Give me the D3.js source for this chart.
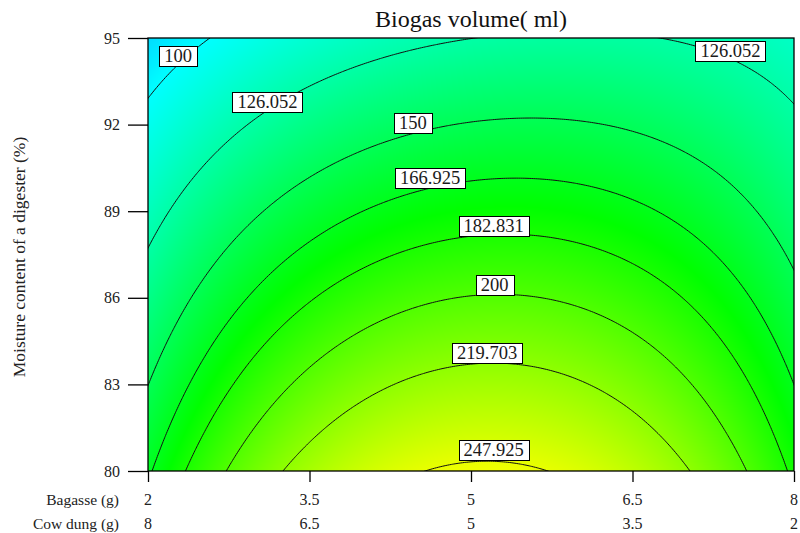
<!DOCTYPE html>
<html>
<head>
<meta charset="utf-8">
<script src="https://cdn.jsdelivr.net/npm/d3@7"></script>
<style>
  body { margin: 0; background: #fff; }
  svg { display: block; }
</style>
</head>
<body>
<script>
// Fitted response surface for biogas volume (ml).
// A = coded bagasse (-1..1 over 2..8 g), B = coded moisture (-1..1 over 80..95 %).
// volume = c0(B) + c1(B)*A + c2(B)*A^2, each cK(B) = [k0, k1*B, k2*B^2]
const coefConst   = [188.1, -62.34, 0.13];
const coefLinearA = [10.27,   3.05, 0.28];
const coefQuadA   = [-50.65, 27.70, 0.16];

const bagasseTicks  = [2, 3.5, 5, 6.5, 8];
const cowDungTicks  = [8, 6.5, 5, 3.5, 2];
const moistureTicks = [80, 83, 86, 89, 92, 95];
const contourLevels = [100, 126.052, 150, 166.925, 182.831, 200, 219.703, 247.925];

function volume(bagasse, moisture) {
  const A = (bagasse - 5) / 3, B = (moisture - 87.5) / 7.5;
  const q = c => c[0] + c[1] * B + c[2] * B * B;
  return q(coefConst) + q(coefLinearA) * A + q(coefQuadA) * A * A;
}

const W = 800, H = 533;
const plot = { left: 148, right: 794, top: 38, bottom: 471 };
const serif = "'Liberation Serif', 'Times New Roman', serif";

const x = d3.scaleLinear().domain([2, 8]).range([plot.left, plot.right]);
const xCow = d3.scaleLinear().domain([8, 2]).range([plot.left, plot.right]);
const y = d3.scaleLinear().domain([80, 95]).range([plot.bottom, plot.top]);

const color = d3.scaleLinear()
  .domain([25, 100, 175, 255, 335])
  .range(["#0000ff", "#00ffff", "#00ff00", "#ffff00", "#ff0000"])
  .clamp(true);

const svg = d3.select("body").append("svg")
  .attr("width", W).attr("height", H)
  .attr("font-family", serif);

svg.append("defs").append("clipPath").attr("id", "plot-clip")
  .append("rect")
  .attr("x", plot.left).attr("y", plot.top)
  .attr("width", plot.right - plot.left).attr("height", plot.bottom - plot.top);

// Colour-filled surface, rendered per pixel into a canvas image
const pw = plot.right - plot.left, ph = plot.bottom - plot.top;
const canvas = document.createElement("canvas");
canvas.width = pw; canvas.height = ph;
const ctx = canvas.getContext("2d");
const img = ctx.createImageData(pw, ph);
for (let j = 0; j < ph; j++) {
  const m = y.invert(plot.top + j + 0.5);
  for (let i = 0; i < pw; i++) {
    const b = x.invert(plot.left + i + 0.5);
    const c = d3.rgb(color(volume(b, m)));
    const k = (j * pw + i) * 4;
    img.data[k] = c.r; img.data[k + 1] = c.g; img.data[k + 2] = c.b; img.data[k + 3] = 255;
  }
}
ctx.putImageData(img, 0, 0);
svg.append("image")
  .attr("x", plot.left).attr("y", plot.top)
  .attr("width", pw).attr("height", ph)
  .attr("preserveAspectRatio", "none")
  .attr("href", canvas.toDataURL());

// Contour lines
const gx0 = 1.8, gx1 = 8.2, gy0 = 79.5, gy1 = 95.5, nx = 321, ny = 241;
const sx = (gx1 - gx0) / (nx - 1), sy = (gy1 - gy0) / (ny - 1);
const grid = new Float64Array(nx * ny);
for (let j = 0; j < ny; j++)
  for (let i = 0; i < nx; i++)
    grid[j * nx + i] = volume(gx0 + i * sx, gy0 + j * sy);

const contours = d3.contours().size([nx, ny]).thresholds(contourLevels)(grid);
const proj = d3.geoTransform({
  point(px, py) { this.stream.point(x(gx0 + (px - 0.5) * sx), y(gy0 + (py - 0.5) * sy)); }
});
const path = d3.geoPath(proj);

svg.append("g").attr("clip-path", "url(#plot-clip)")
  .selectAll("path").data(contours).join("path")
  .attr("d", path)
  .attr("fill", "none")
  .attr("stroke", "#111")
  .attr("stroke-width", 1);

// Contour value labels: [level, bagasse position, vertical shift]
const labelPlacement = [
  [100, 2.28, -8],
  [126.052, 3.11, -8],
  [126.052, 7.41, -8],
  [150, 4.46, -11],
  [166.925, 4.62, -10],
  [182.831, 5.21, -8],
  [200, 5.22, -9],
  [219.703, 5.15, -10],
  [247.925, 5.21, -11]
];

function moistureAt(bagasse, level) {
  let lo = 80, hi = 95;
  for (let k = 0; k < 60; k++) {
    const mid = (lo + hi) / 2;
    if (volume(bagasse, mid) > level) lo = mid; else hi = mid;
  }
  return (lo + hi) / 2;
}

const labels = svg.append("g");
labelPlacement.forEach(([level, b, dy]) => {
  const cx = x(b), cy = y(moistureAt(b, level)) + dy;
  const g = labels.append("g");
  const rect = g.append("rect").attr("fill", "#fff").attr("stroke", "#000").attr("stroke-width", 1);
  const t = g.append("text")
    .attr("x", cx).attr("y", cy)
    .attr("text-anchor", "middle")
    .attr("dominant-baseline", "central")
    .attr("font-size", 18.5)
    .attr("fill", "#1a1a1a")
    .text(String(level));
  const w = t.node().getComputedTextLength();
  rect.attr("x", Math.round(cx - w / 2 - 5) + 0.5).attr("y", Math.round(cy - 10) + 0.5)
    .attr("width", Math.round(w + 10)).attr("height", 20);
});

// Plot frame
svg.append("rect")
  .attr("x", plot.left).attr("y", plot.top)
  .attr("width", pw).attr("height", ph)
  .attr("fill", "none").attr("stroke", "#000").attr("stroke-width", 1.3);

// Y axis
const yAxis = svg.append("g")
  .attr("transform", `translate(${plot.left},0)`)
  .call(d3.axisLeft(y).tickValues(moistureTicks).tickSize(20).tickPadding(8).tickFormat(d3.format("d")));
yAxis.select(".domain").remove();
yAxis.selectAll("line").attr("stroke", "#000").attr("stroke-width", 1.3);
yAxis.selectAll("text").attr("font-family", serif).attr("font-size", 16).attr("fill", "#222");

// X axis: bagasse ticks with paired cow dung values
const xAxis = svg.append("g")
  .attr("transform", `translate(0,${plot.bottom})`)
  .call(d3.axisBottom(x).tickValues(bagasseTicks).tickSize(11).tickFormat(() => ""));
xAxis.select(".domain").remove();
xAxis.selectAll("line").attr("stroke", "#000").attr("stroke-width", 1.3);

svg.append("g").selectAll("text").data(bagasseTicks).join("text")
  .attr("x", d => x(d)).attr("y", 499)
  .attr("text-anchor", "middle").attr("dominant-baseline", "central")
  .attr("font-size", 16).attr("fill", "#222")
  .text(d => d);
svg.append("g").selectAll("text").data(cowDungTicks).join("text")
  .attr("x", d => xCow(d)).attr("y", 523)
  .attr("text-anchor", "middle").attr("dominant-baseline", "central")
  .attr("font-size", 16).attr("fill", "#222")
  .text(d => d);

svg.append("text").attr("x", 119).attr("y", 499)
  .attr("text-anchor", "end").attr("dominant-baseline", "central")
  .attr("font-size", 15.5).attr("fill", "#222").text("Bagasse (g)");
svg.append("text").attr("x", 119).attr("y", 523)
  .attr("text-anchor", "end").attr("dominant-baseline", "central")
  .attr("font-size", 15.5).attr("fill", "#222").text("Cow dung (g)");

svg.append("text")
  .attr("transform", `translate(25,257) rotate(-90)`)
  .attr("text-anchor", "middle")
  .attr("font-size", 17.5).attr("fill", "#222")
  .text("Moisture content of a digester (%)");

svg.append("text")
  .attr("x", 471).attr("y", 27)
  .attr("text-anchor", "middle")
  .attr("font-size", 24).attr("fill", "#111")
  .text("Biogas volume( ml)");
</script>
</body>
</html>
